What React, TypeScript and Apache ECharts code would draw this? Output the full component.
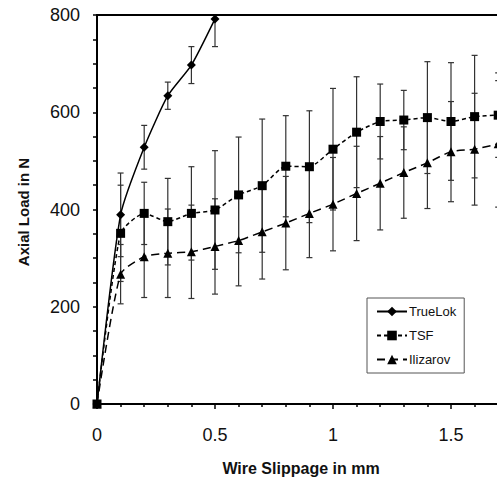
import React, { useEffect, useRef } from "react";
import * as echarts from "echarts";

const xTrueLok = [0, 0.1, 0.2, 0.3, 0.4, 0.5];
const trueLokMean = [0, 389, 528, 634, 697, 792];
const trueLokErr = [0, 86, 45, 28, 38, 57];

const xAll = [0, 0.1, 0.2, 0.3, 0.4, 0.5, 0.6, 0.7, 0.8, 0.9, 1.0, 1.1, 1.2, 1.3, 1.4, 1.5, 1.6, 1.7];
const tsfMean = [0, 351, 392, 375, 392, 399, 430, 449, 489, 488, 524, 559, 581, 584, 589, 581, 591, 594];
const tsfErr = [0, 99, 64, 89, 96, 122, 119, 137, 104, 115, 125, 114, 77, 61, 115, 121, 126, 87];
const ilizarovMean = [0, 267, 303, 310, 313, 324, 336, 354, 372, 392, 411, 433, 454, 476, 496, 519, 524, 535];
const ilizarovErr = [0, 61, 84, 91, 96, 98, 93, 97, 96, 91, 96, 97, 96, 94, 94, 103, 115, 130];

const xTickLabels = ["0", "0.5", "1", "1.5"];
const seriesNames = ["TrueLok", "TSF", "Ilizarov"];
const xAxisTitle = "Wire Slippage in mm";
const yAxisTitle = "Axial Load in N";

const FONT = "'Liberation Sans', Arial, Helvetica, sans-serif";

function pairs(xs: number[], ys: number[]) {
  return xs.map((x, i) => [x, ys[i]]);
}
function errData(xs: number[], ys: number[], es: number[]) {
  return xs.map((x, i) => [x, ys[i] - es[i], ys[i] + es[i]]);
}

const errRender = (params: any, api: any) => {
  const x = api.value(0);
  const lo = api.value(1);
  const hi = api.value(2);
  if (hi === lo) return null;
  const pLo = api.coord([x, lo]);
  const pHi = api.coord([x, hi]);
  const w = 3;
  const style = { stroke: "#333", lineWidth: 1.2 };
  return {
    type: "group",
    children: [
      { type: "line", shape: { x1: pLo[0], y1: pHi[1], x2: pLo[0], y2: pLo[1] }, style },
      { type: "line", shape: { x1: pLo[0] - w, y1: pHi[1], x2: pLo[0] + w, y2: pHi[1] }, style },
      { type: "line", shape: { x1: pLo[0] - w, y1: pLo[1], x2: pLo[0] + w, y2: pLo[1] }, style },
    ],
  };
};

export default function App() {
  const ref = useRef<HTMLDivElement>(null);
  useEffect(() => {
    if (!ref.current) return;
    const chart = echarts.init(ref.current, undefined, { renderer: "svg" });
    chart.setOption({
      animation: false,
      backgroundColor: "#fff",
      grid: {
        left: 97,
        top: 15,
        width: 472,
        height: 389,
        outerBoundsMode: "none",
        containLabel: false,
        show: true,
        borderColor: "#000",
        borderWidth: 2,
        backgroundColor: "transparent",
      },
      legend: {
        data: seriesNames,
        orient: "vertical",
        left: 367,
        top: 298,
        itemWidth: 30,
        itemHeight: 12,
        itemGap: 11,
        padding: [7, 8, 7, 9],
        borderColor: "#555",
        borderWidth: 1,
        backgroundColor: "#fff",
        textStyle: { fontFamily: FONT, fontSize: 13, color: "#111", padding: [0, 0, 0, -3] },
      },
      xAxis: {
        type: "value",
        min: 0,
        max: 2,
        interval: 0.5,
        axisLine: { show: true, onZero: false, lineStyle: { color: "#000", width: 2 } },
        axisTick: { show: true, length: 5, lineStyle: { color: "#000", width: 1.5 } },
        minorTick: { show: true, splitNumber: 5, length: 3, lineStyle: { color: "#000", width: 1.5 } },
        splitLine: { show: false },
        axisLabel: {
          fontFamily: FONT,
          fontSize: 18,
          color: "#111",
          margin: 22,
          showMaxLabel: false,
          formatter: (v: number) => {
            const idx = Math.round(v / 0.5);
            return idx < xTickLabels.length ? xTickLabels[idx] : "";
          },
        },
      },
      yAxis: {
        type: "value",
        min: 0,
        max: 800,
        interval: 200,
        axisLine: { show: true, lineStyle: { color: "#000", width: 2 } },
        axisTick: { show: true, length: 4, lineStyle: { color: "#000", width: 1.5 } },
        minorTick: { show: true, splitNumber: 4, length: 4, lineStyle: { color: "#000", width: 1.5 } },
        splitLine: { show: false },
        axisLabel: { fontFamily: FONT, fontSize: 18, color: "#111", margin: 17 },
      },
      graphic: [
        {
          type: "text",
          x: 23,
          y: 212,
          rotation: Math.PI / 2,
          style: {
            text: yAxisTitle,
            font: `bold 15px ${FONT}`,
            fill: "#111",
            textAlign: "center",
            textVerticalAlign: "middle",
          },
        },
        {
          type: "text",
          x: 301,
          y: 468,
          style: {
            text: xAxisTitle,
            font: `bold 16px ${FONT}`,
            fill: "#111",
            textAlign: "center",
            textVerticalAlign: "middle",
          },
        },
      ],
      series: [
        {
          type: "custom",
          name: "TrueLok err",
          renderItem: errRender,
          data: errData(xTrueLok, trueLokMean, trueLokErr),
          encode: { x: 0, y: [1, 2] },
          clip: true,
          z: 1,
          silent: true,
        },
        {
          type: "custom",
          name: "TSF err",
          renderItem: errRender,
          data: errData(xAll, tsfMean, tsfErr),
          encode: { x: 0, y: [1, 2] },
          clip: true,
          z: 1,
          silent: true,
        },
        {
          type: "custom",
          name: "Ilizarov err",
          renderItem: errRender,
          data: errData(xAll, ilizarovMean, ilizarovErr),
          encode: { x: 0, y: [1, 2] },
          clip: true,
          z: 1,
          silent: true,
        },
        {
          type: "line",
          name: seriesNames[0],
          data: pairs(xTrueLok, trueLokMean),
          smooth: 0.2,
          symbol: "diamond",
          symbolSize: 9,
          itemStyle: { color: "#000" },
          lineStyle: { color: "#000", width: 1.5, type: "solid" },
          clip: true,
          z: 3,
        },
        {
          type: "line",
          name: seriesNames[1],
          data: pairs(xAll, tsfMean),
          smooth: 0.2,
          symbol: "rect",
          symbolSize: 9,
          itemStyle: { color: "#000" },
          lineStyle: { color: "#000", width: 1.5, type: [4, 3] },
          clip: true,
          z: 3,
        },
        {
          type: "line",
          name: seriesNames[2],
          data: pairs(xAll, ilizarovMean),
          smooth: 0.2,
          symbol: "triangle",
          symbolSize: 9,
          itemStyle: { color: "#000" },
          lineStyle: { color: "#000", width: 1.5, type: [8, 5] },
          clip: true,
          z: 3,
        },
      ],
    });
    return () => chart.dispose();
  }, []);
  return (
    <div
      ref={ref}
      style={{ position: "absolute", left: 0, top: 0, width: 497, height: 486, overflow: "hidden" }}
    />
  );
}
